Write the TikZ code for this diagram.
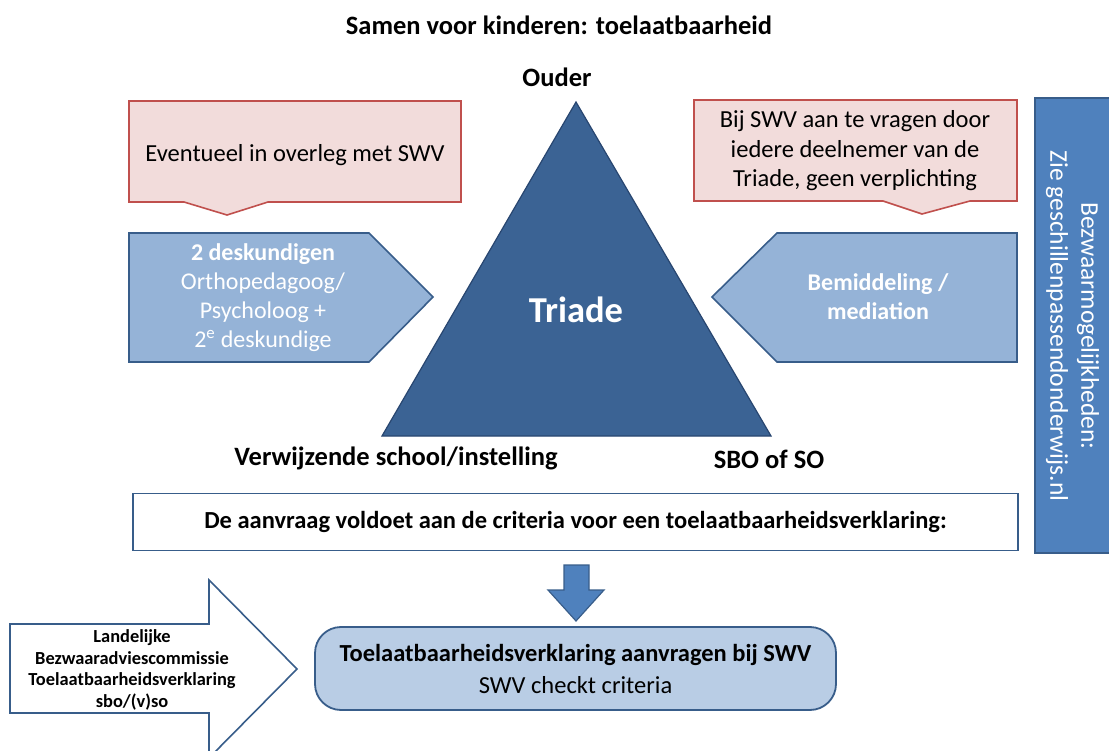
\documentclass[tikz,border=0pt]{standalone}
\usepackage{fontspec}
\setmainfont{Carlito}
\definecolor{tri}{RGB}{59,99,148}
\definecolor{triborder}{RGB}{40,70,112}
\definecolor{pent}{RGB}{149,179,215}
\definecolor{bborder}{RGB}{56,93,138}
\definecolor{callfill}{RGB}{242,220,219}
\definecolor{callborder}{RGB}{192,80,77}
\definecolor{accent}{RGB}{79,129,189}
\definecolor{roundfill}{RGB}{185,205,229}
\tikzset{
  callout/.style={fill=callfill,draw=callborder,line width=1.6pt},
  pentshape/.style={fill=pent,draw=bborder,line width=1.6pt},
  lbl/.style={font=\fontsize{26.5}{30}\selectfont\bfseries,text=black},
  body/.style={font=\fontsize{24.5}{29.5}\selectfont,text=black,align=center},
  whitetxt/.style={font=\fontsize{24}{29}\selectfont,text=white,align=center},
  sidetxt/.style={font=\fontsize{25.5}{30}\selectfont,text=white,rotate=-90},
}
\begin{document}
\begin{tikzpicture}[x=1pt,y=-1pt]
\useasboundingbox (0,0) rectangle (1109,751);
\clip (0,0) rectangle (1109,751);
% title
\node[lbl] (title) at (559,25) {Samen voor kinderen: toelaatbaarheid};
\node[lbl] (ouder) at (557,77) {Ouder};
% triangle
\draw[fill=tri,draw=triborder,line width=1.2pt] (576,102) -- (771,436) -- (382,436) -- cycle;
\node[font=\fontsize{36.5}{40}\selectfont\bfseries,text=white] (triade) at (576,310) {Triade};
\node[lbl] (verw) at (396,458) {Verwijzende school/instelling};
\node[lbl] (sbo) at (769,459) {SBO of SO};
% left callout
\draw[callout] (129,101) -- (461,101) -- (461,202) -- (268,202) -- (227,215) -- (184,202) -- (129,202) -- cycle;
\node[body] (ev) at (295,155) {Eventueel in overleg met SWV};
% right callout
\draw[callout] (694,100) -- (1017,100) -- (1017,201) -- (970,201) -- (922,214) -- (883,201) -- (694,201) -- cycle;
\node[body] (bij) at (855,151) {Bij SWV aan te vragen door\\iedere deelnemer van de\\Triade, geen verplichting};
% left pentagon
\draw[pentshape] (129,233) -- (369,233) -- (433,297) -- (369,362) -- (129,362) -- cycle;
\node[whitetxt] (desk) at (263,298) {\textbf{2 deskundigen}\\Orthopedagoog/\\Psycholoog +\\2\textsuperscript{e} deskundige};
% right pentagon
\draw[pentshape] (1017,233) -- (777,233) -- (712,297) -- (777,362) -- (1017,362) -- cycle;
\node[whitetxt,font=\fontsize{24}{29}\selectfont\bfseries] (bem) at (878,297) {Bemiddeling /\\mediation};
% side bar
\draw[fill=accent,draw=bborder,line width=1.6pt] (1035,98) rectangle (1120,553);
\node[sidetxt] (bez) at (1088,326) {Bezwaarmogelijkheden:};
\node[sidetxt] (zie) at (1057,326) {Zie geschillenpassendonderwijs.nl};
% criteria box
\node[draw=bborder,line width=1.8pt,fill=white,minimum width=885pt,minimum height=57pt,font=\fontsize{24.5}{28}\selectfont\bfseries] (crit) at (575.5,522) {De aanvraag voldoet aan de criteria voor een toelaatbaarheidsverklaring:};
% down arrow
\draw[fill=accent,draw=bborder,line width=1.2pt] (564,565) -- (589,565) -- (589,590) -- (604,590) -- (576,621) -- (548,590) -- (564,590) -- cycle;
% rounded box
\node[draw=bborder,line width=1.8pt,fill=roundfill,rounded corners=26pt,minimum width=521pt,minimum height=83pt,align=center,font=\fontsize{24.5}{32}\selectfont] (aanv) at (575.5,668.5) {\textbf{Toelaatbaarheidsverklaring aanvragen bij SWV}\\SWV checkt criteria};
% big left arrow
\draw[fill=white,draw=bborder,line width=1.6pt] (10,624) -- (209,624) -- (209,580) -- (297,669) -- (209,758) -- (209,713) -- (10,713) -- cycle;
\node[font=\fontsize{18.4}{21.7}\selectfont\bfseries,align=center] (landelijk) at (132,670) {Landelijke\\Bezwaaradviescommissie\\Toelaatbaarheidsverklaring\\sbo/(v)so};
\end{tikzpicture}
\end{document}
